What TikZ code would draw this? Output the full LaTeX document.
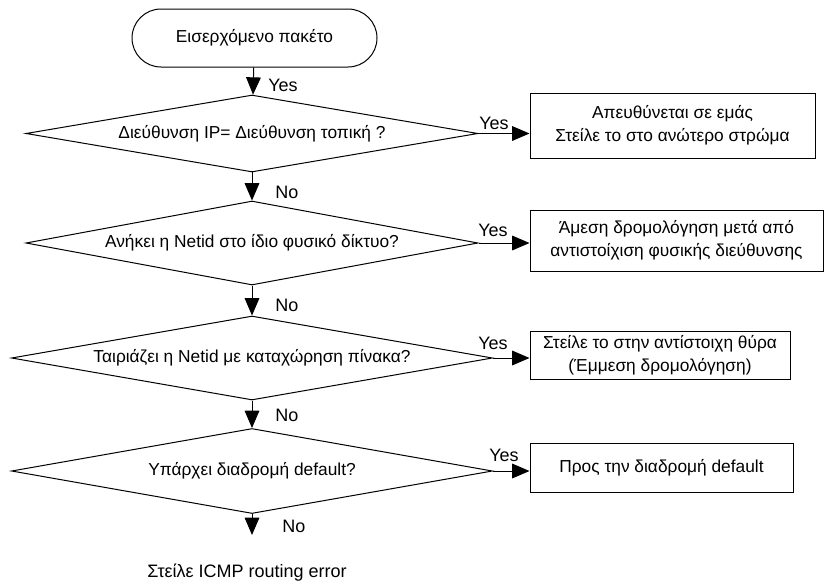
\documentclass[tikz,border=0pt]{standalone}
\usepackage{fontspec}
\setmainfont{Liberation Sans}
\usetikzlibrary{arrows.meta,positioning,shapes.geometric}

\begin{document}
\begin{tikzpicture}[
  x=0.75pt, y=0.75pt, line width=0.75pt,
  >={Triangle[length=13pt,width=11pt]},
  term/.style={draw, rounded corners=21.75pt, minimum width=183.75pt,
               minimum height=43.5pt, font=\fontsize{13}{16}\selectfont},
  test/.style={draw, diamond, aspect=6, inner sep=0pt, font=\fontsize{13}{16}\selectfont},
  act/.style={draw, align=center, inner sep=0pt, font=\fontsize{13}{17}\selectfont},
  lbl/.style={inner sep=0pt, font=\fontsize{13.5}{16}\selectfont}
]
\useasboundingbox (0,0) rectangle (824,-582);

\node[term] (start) at (254.5,-38) {Εισερχόμενο πακέτο};
\node[test, minimum width=339pt, minimum height=57.75pt] (d1) at (252,-133.5) {Διεύθυνση IP= Διεύθυνση τοπική ?};
\node[test, minimum width=339pt, minimum height=63pt] (d2) at (252,-243) {Ανήκει η Netid στο ίδιο φυσικό δίκτυο?};
\node[test, minimum width=360.75pt, minimum height=63pt] (d3) at (252,-358) {Ταιριάζει η Netid με καταχώρηση πίνακα?};
\node[test, minimum width=360.75pt, minimum height=63.75pt] (d4) at (252,-471) {Υπάρχει διαδρομή default?};

\node[act, minimum width=213.75pt, minimum height=48.75pt] (b1) at (672.5,-125.5) {Απευθύνεται σε εμάς\\ Στείλε το στο ανώτερο στρώμα};
\node[act, minimum width=219.75pt, minimum height=45.75pt] (b2) at (676.5,-240.5) {Άμεση δρομολόγηση μετά από\\ αντιστοίχιση φυσικής διεύθυνσης};
\node[act, minimum width=195pt, minimum height=36pt] (b3) at (660,-355) {Στείλε το στην αντίστοιχη θύρα\\ (Έμμεση δρομολόγηση)};
\node[act, minimum width=197.25pt, minimum height=36.75pt] (b4) at (661.5,-467.5) {Προς την διαδρομή default};

\coordinate (fail) at (252,-535);
\node[lbl] (icmp) at (247,-573) {Στείλε ICMP routing error};

\node[lbl] (yes0) at (283,-85) {Yes};
\node[lbl] (yes1) at (494,-123) {Yes};
\node[lbl] (yes2) at (493,-230) {Yes};
\node[lbl] (yes3) at (493,-343) {Yes};
\node[lbl] (yes4) at (504,-455) {Yes};
\node[lbl] (no1) at (287,-192) {No};
\node[lbl] (no2) at (287,-305) {No};
\node[lbl] (no3) at (287,-415) {No};
\node[lbl] (no4) at (294,-526) {No};

\draw[->] (start)--(d1);
\draw[->] (d1)--(d2);
\draw[->] (d2)--(d3);
\draw[->] (d3)--(d4);
\draw[->] (d4.south)--(fail);
\draw[->] (d1.east)--(d1.east -| b1.west);
\draw[->] (d2.east)--(d2.east -| b2.west);
\draw[->] (d3.east)--(d3.east -| b3.west);
\draw[->] (d4.east)--(d4.east -| b4.west);
\end{tikzpicture}
\end{document}
